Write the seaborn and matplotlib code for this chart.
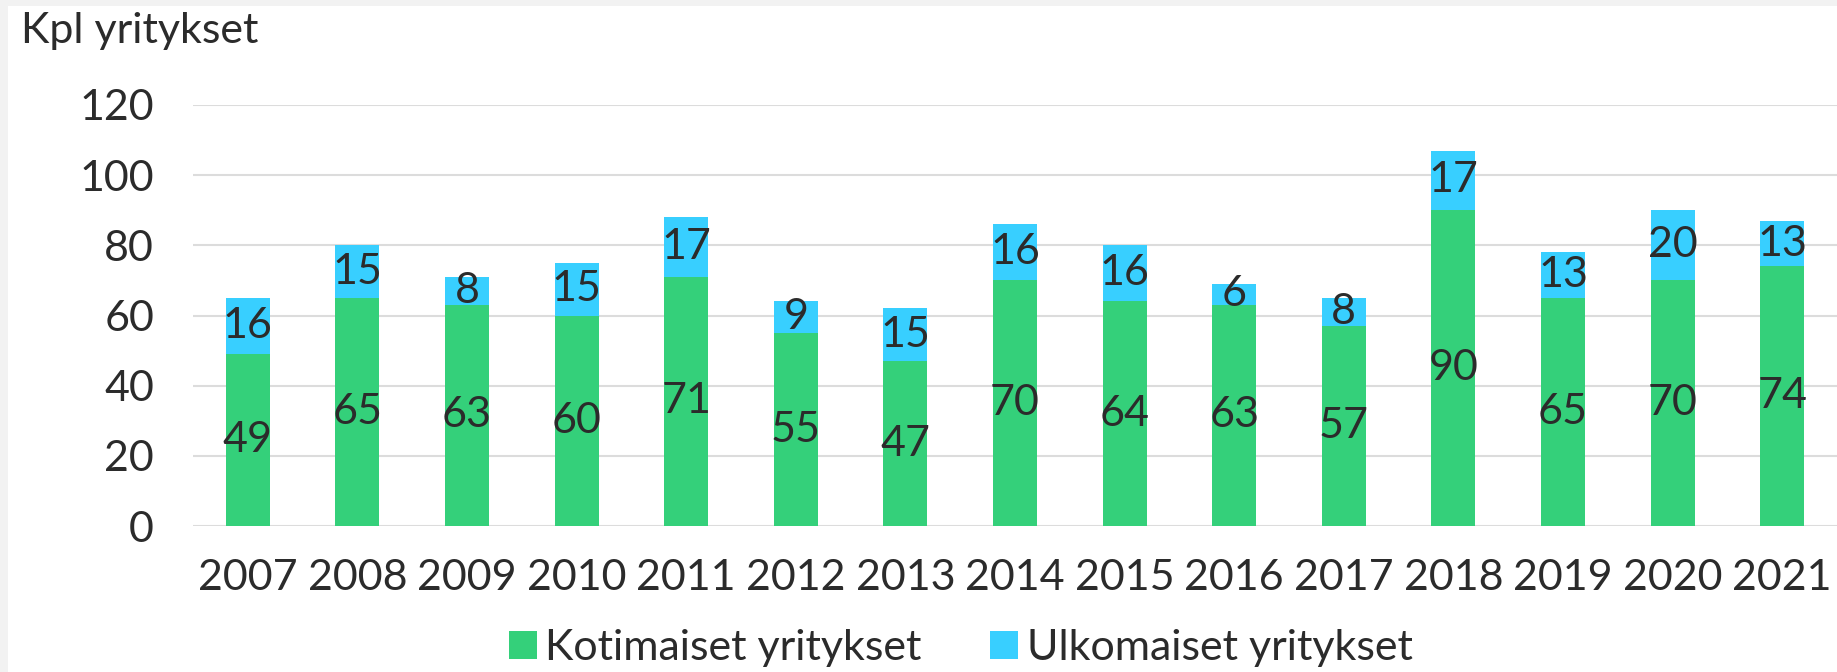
import matplotlib
matplotlib.use("Agg")
import matplotlib.pyplot as plt
from matplotlib.patches import Patch, Rectangle
import pandas as pd
import seaborn as sns

years = ["2007", "2008", "2009", "2010", "2011", "2012", "2013", "2014",
         "2015", "2016", "2017", "2018", "2019", "2020", "2021"]
kotimaiset = [49, 65, 63, 60, 71, 55, 47, 70, 64, 63, 57, 90, 65, 70, 74]
ulkomaiset = [16, 15, 8, 15, 17, 9, 15, 16, 16, 6, 8, 17, 13, 20, 13]
y_ticks = [0, 20, 40, 60, 80, 100, 120]

green = "#34D07A"
cyan = "#38CFFF"
text_color = "#2B2B2B"

df = pd.DataFrame({"vuosi": years, "koti": kotimaiset, "ulko": ulkomaiset})
df["yht"] = df["koti"] + df["ulko"]

sns.set_theme(style="white")
plt.rcParams["font.family"] = ["Lato", "DejaVu Sans"]

W, H = 1837, 672
fig = plt.figure(figsize=(W / 100, H / 100), dpi=100, facecolor="white")
# thin grey frame strips along the top and left edges
fig.patches.append(Rectangle((0, 1 - 6 / H), 1, 6 / H, transform=fig.transFigure,
                             facecolor="#F2F2F2", edgecolor="none", zorder=-5))
fig.patches.append(Rectangle((0, 0), 8 / W, 1, transform=fig.transFigure,
                             facecolor="#F2F2F2", edgecolor="none", zorder=-5))

ax = fig.add_axes([193 / W, 146 / H, (W - 193) / W, (526 - 105) / H])
ax.set_facecolor("none")

# stacked bars: totals in cyan, domestic drawn over them in green
sns.barplot(data=df, x="vuosi", y="yht", color=cyan, width=0.40,
            saturation=1, linewidth=0, ax=ax, zorder=2)
sns.barplot(data=df, x="vuosi", y="koti", color=green, width=0.40,
            saturation=1, linewidth=0, ax=ax, zorder=3)

for i, (k, u) in enumerate(zip(kotimaiset, ulkomaiset)):
    ax.text(i, k / 2, str(k), ha="center", va="center", fontsize=31,
            color=text_color, zorder=5)
    ax.text(i, k + u / 2, str(u), ha="center", va="center", fontsize=31,
            color=text_color, zorder=5)

ax.set_ylim(0, 120)
ax.set_xlim(-0.5, 14.5)
ax.set_yticks(y_ticks)
ax.yaxis.grid(True, color="#DCDCDC", linewidth=1.5, zorder=0)
ax.set_axisbelow(True)
for s in ax.spines.values():
    s.set_visible(False)
ax.set_xlabel("")
ax.set_ylabel("")
ax.tick_params(axis="y", labelsize=31, labelcolor=text_color, length=0, pad=28)
ax.tick_params(axis="x", labelsize=31, labelcolor=text_color, length=0, pad=24)

fig.text(21 / W, 1 - 12 / H, "Kpl yritykset", fontsize=31, color=text_color,
         ha="left", va="top")

handles = [Patch(facecolor=green, edgecolor="none", label="Kotimaiset yritykset"),
           Patch(facecolor=cyan, edgecolor="none", label="Ulkomaiset yritykset")]
fig.legend(handles=handles, loc="center", bbox_to_anchor=(0.523, 24 / H),
           ncol=2, frameon=False, fontsize=31, handlelength=0.65,
           handleheight=0.65, handletextpad=0.2, columnspacing=1.6,
           labelcolor=text_color)

fig.savefig("out.png", dpi=100, facecolor=fig.get_facecolor())
